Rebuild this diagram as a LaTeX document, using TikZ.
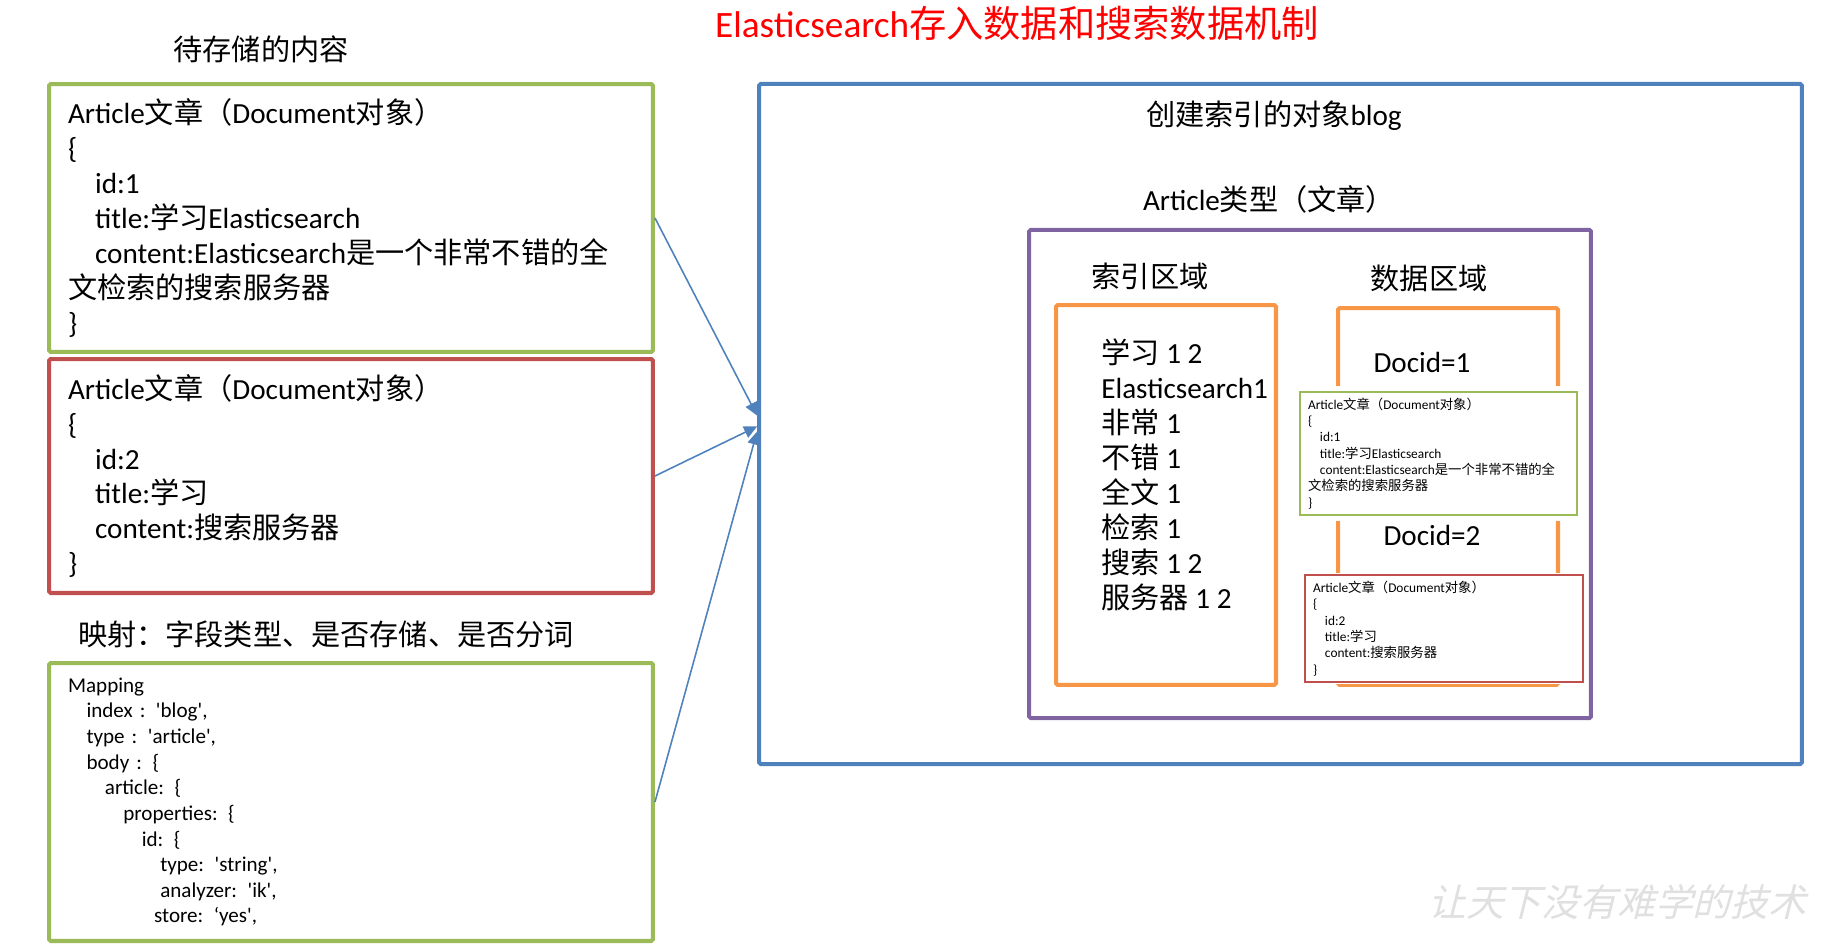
\documentclass[tikz,border=0pt]{standalone}
\usepackage{fontspec}
\setmainfont{Carlito}[Ligatures=TeXOff]
\newfontfamily\cjk{Noto Sans CJK SC}
\newfontfamily\brush{Noto Sans CJK SC}[FakeSlant=0.25]
\newcommand{\zh}[1]{{\cjk #1}}
\usepackage{xcolor}
\usetikzlibrary{positioning,arrows.meta,calc}
\definecolor{esblue}{RGB}{79,129,189}
\definecolor{esgreen}{RGB}{155,187,89}
\definecolor{esred}{RGB}{192,80,77}
\definecolor{espurple}{RGB}{128,100,162}
\definecolor{esorange}{RGB}{247,150,70}
\definecolor{estitle}{RGB}{255,0,0}
\tikzset{
  docbox/.style={draw, line width=2.3pt, rounded corners=1pt, align=left, inner xsep=0.38cm, font=\fontsize{16.6}{19.9}\selectfont},
  minibox/.style={draw, line width=1.1pt, fill=white, align=left, inner xsep=0.16cm, font=\fontsize{7.6}{9.3}\selectfont},
  areabox/.style={draw, line width=2.3pt, rounded corners=1pt},
  caption/.style={inner sep=0, font=\fontsize{16.6}{19.9}\selectfont},
  arrow/.style={-{Triangle[length=7.4pt, width=7pt]}, line width=0.9pt, esblue}
}

\begin{document}
\begin{tikzpicture}[x=0.02cm, y=-0.02cm]
    \useasboundingbox (0,0) rectangle (1825,943);
    % title
    \node[inner sep=0, text=estitle, font=\fontsize{21.2}{26}\selectfont] (title) at (1017,23) {Elasticsearch\zh{存入数据和搜索数据机制}};
    % left side: documents to store
    \node[caption] (storecap) at (261,49) {\zh{待存储的内容}};
    \node[docbox, draw=esgreen, minimum width=12.08cm, minimum height=5.36cm, text width=11.32cm] (doc1) at (351,218) {%
      Article\zh{文章（}Document\zh{对象）}\\
      \{\\
      \hspace*{15.4pt}id:1\\
      \hspace*{15.4pt}title:\zh{学习}Elasticsearch\\
      \hspace*{15.4pt}content:Elasticsearch\zh{是一个非常不错的全}\\
      \zh{文检索的搜索服务器}\\
      \}};
    \node[docbox, draw=esred, minimum width=12.08cm, minimum height=4.68cm, text width=11.32cm] (doc2) at (351,476) {%
      Article\zh{文章（}Document\zh{对象）}\\
      \{\\
      \hspace*{15.4pt}id:2\\
      \hspace*{15.4pt}title:\zh{学习}\\
      \hspace*{15.4pt}content:\zh{搜索服务器}\\
      \}};
    \node[caption] (mapcap) at (326,634) {\zh{映射：字段类型、是否存储、是否分词}};
    \node[docbox, draw=esgreen, minimum width=12.08cm, minimum height=5.56cm, text width=11.32cm, font=\fontsize{12}{14.6}\selectfont] (mapping) at (351,802) {%
      Mapping\\
      \hspace*{10.5pt}index : 'blog',\\
      \hspace*{10.5pt}type : 'article',\\
      \hspace*{10.5pt}body : \{\\
      \hspace*{21pt}article: \{\\
      \hspace*{31.5pt}properties: \{\\
      \hspace*{42pt}id: \{\\
      \hspace*{52.5pt}type: 'string',\\
      \hspace*{52.5pt}analyzer: 'ik',\\
      \hspace*{49pt}store: ‘yes',};
    % right side: the index
    \node[areabox, draw=esblue, minimum width=20.86cm, minimum height=13.61cm] (blog) at (1280.5,424) {};
    \node[caption] (blogcap) at (1274,116) {\zh{创建索引的对象}blog};
    \node[caption] (typecap) at (1269,199) {Article\zh{类型（文章）}};
    \node[areabox, draw=espurple, minimum width=11.24cm, minimum height=9.77cm] (article) at (1310,474) {};
    \node[caption] (idxcap) at (1150,276) {\zh{索引区域}};
    \node[caption] (datacap) at (1429,278) {\zh{数据区域}};
    \node[areabox, draw=esorange, minimum width=4.4cm, minimum height=7.6cm] (idxarea) at (1166,495) {};
    \node[caption, anchor=west, align=left, font=\fontsize{16.6}{19.95}\selectfont] (terms) at (1101,475) {%
      \zh{学习} 1 2\\
      Elasticsearch1\\
      \zh{非常} 1\\
      \zh{不错} 1\\
      \zh{全文} 1\\
      \zh{检索} 1\\
      \zh{搜索} 1 2\\
      \zh{服务器} 1 2};
    \node[areabox, draw=esorange, minimum width=4.4cm, minimum height=7.54cm] (dataarea) at (1448,496.5) {};
    \node[caption] (docid1) at (1422,362) {Docid=1};
    \node[minibox, draw=esgreen, preaction={draw=white, line width=7pt}, minimum width=5.54cm, minimum height=2.42cm, text width=5.22cm] (mini1) at (1438.5,453.5) {%
      Article\zh{文章（}Document\zh{对象）}\\
      \{\\
      \hspace*{6.8pt}id:1\\
      \hspace*{6.8pt}title:\zh{学习}Elasticsearch\\
      \hspace*{6.8pt}content:Elasticsearch\zh{是一个非常不错的全}\\
      \zh{文检索的搜索服务器}\\
      \}};
    \node[caption] (docid2) at (1432,535) {Docid=2};
    \node[minibox, draw=esred, preaction={draw=white, line width=3pt}, minimum width=5.56cm, minimum height=2.06cm, text width=5.24cm] (mini2) at (1444,628.5) {%
      Article\zh{文章（}Document\zh{对象）}\\
      \{\\
      \hspace*{6.8pt}id:2\\
      \hspace*{6.8pt}title:\zh{学习}\\
      \hspace*{6.8pt}content:\zh{搜索服务器}\\
      \}};
    % connectors
    \draw[arrow] (doc1.east) -- ([yshift=4.8pt]blog.west);
    \draw[arrow] (doc2.east) -- ([yshift=-1.4pt]blog.west);
    \draw[arrow] (mapping.east) -- ([yshift=-4.3pt]blog.west);
    % watermark
    \node[inner sep=0, anchor=west, text=black!12, font=\brush\fontsize{21.5}{26}\selectfont] (mark) at (1428,902) {让天下没有难学的技术};
\end{tikzpicture}
\end{document}
